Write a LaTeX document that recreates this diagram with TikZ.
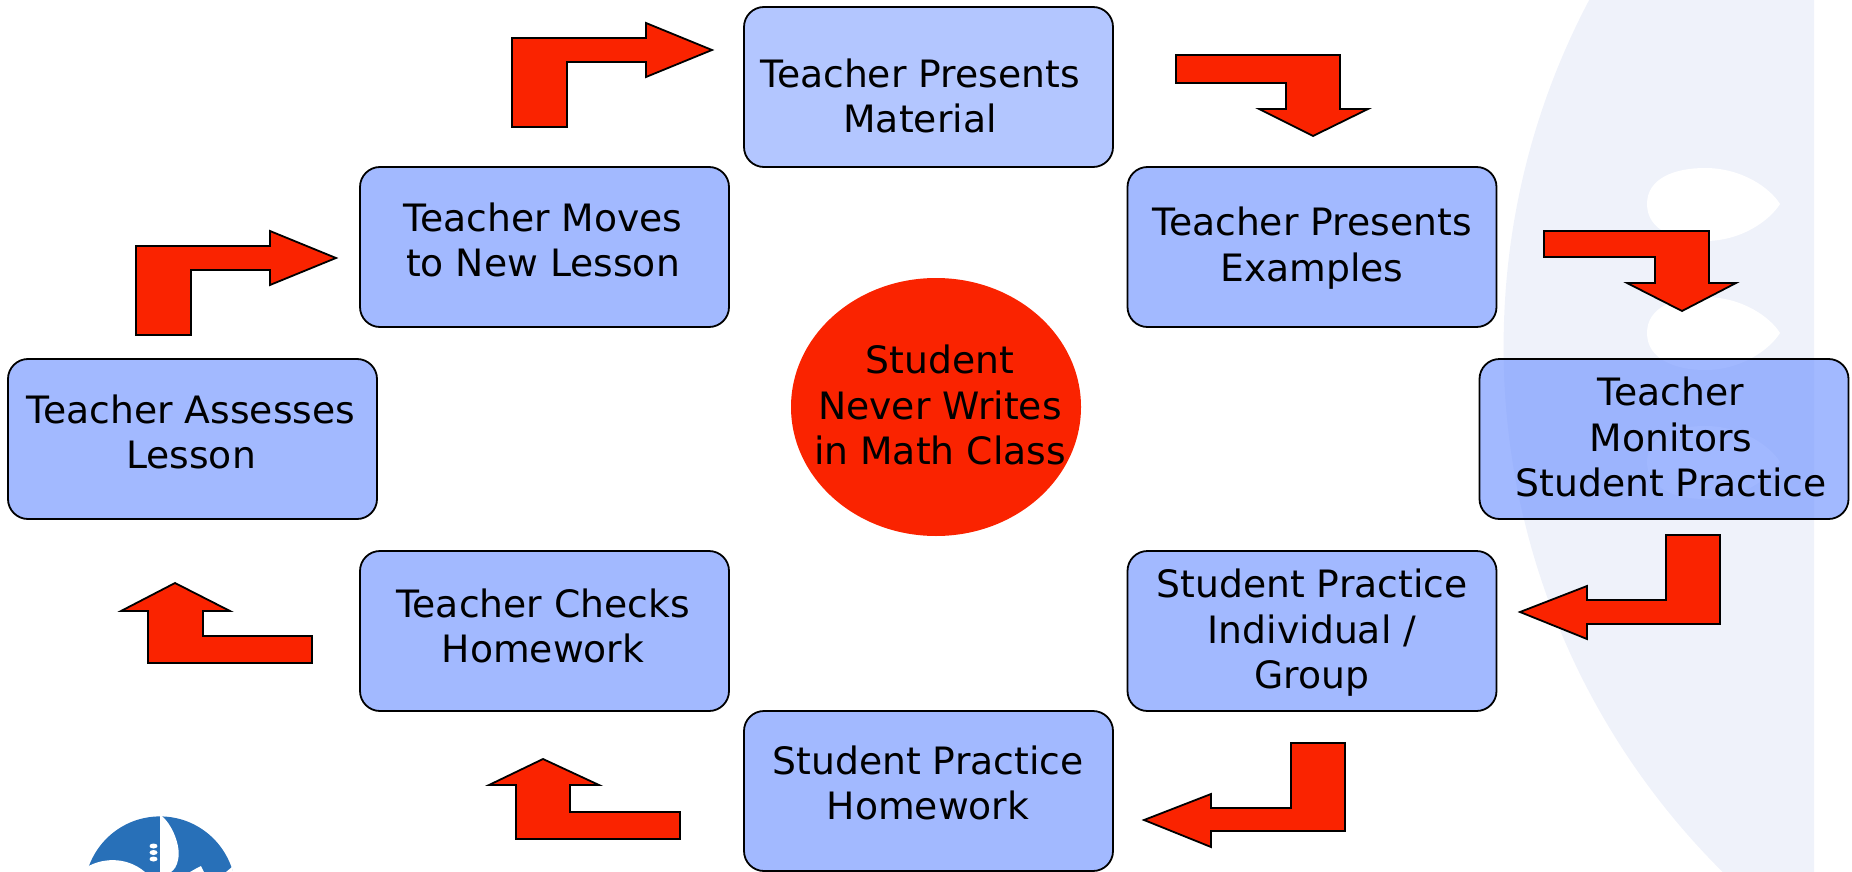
\documentclass[tikz,border=0pt]{standalone}
\usepackage{fontspec}
\setmainfont{DejaVu Sans}
\usepackage{xcolor}
\usetikzlibrary{shapes.geometric}
\definecolor{lessonblue}{RGB}{112, 147, 255}
\definecolor{firstblue}{RGB}{179, 198, 255}
\definecolor{arrowred}{RGB}{250, 35, 0}
\definecolor{pagetint}{RGB}{239, 242, 250}
\definecolor{logoblue}{RGB}{40, 112, 184}
\tikzset{
  lessonbox/.style={draw=black,line width=1.8pt,rounded corners=20pt,fill=lessonblue,fill opacity=0.65,minimum width=369pt,minimum height=160pt},
  lessontext/.style={align=center,font=\fontsize{37.7}{45.5}\selectfont,text=black},
  bentarrow/.style={draw=black,line width=1.8pt,fill=arrowred,line join=miter}
}
\begin{document}
\begin{tikzpicture}[x=1pt,y=-1pt]
  \useasboundingbox (0,0) rectangle (1852,872);
  \clip (0,0) rectangle (1852,872);

  % page decoration
  \begin{scope}
    \clip (0,0) rectangle (1814,872);
    \fill[pagetint] (2244.6,346) circle (741pt);
  \end{scope}
  \fill[white] (1647,204) .. controls (1647,178) and (1675,168) .. (1705,168) .. controls (1742,168) and (1770,188) .. (1780,204) .. controls (1770,220) and (1742,241) .. (1705,241) .. controls (1675,241) and (1647,230) .. (1647,204) -- cycle;
  \fill[white,shift={(0,129)}] (1647,204) .. controls (1647,178) and (1675,168) .. (1705,168) .. controls (1742,168) and (1770,188) .. (1780,204) .. controls (1770,220) and (1742,241) .. (1705,241) .. controls (1675,241) and (1647,230) .. (1647,204) -- cycle;
  \fill[white,shift={(0,258)}] (1647,204) .. controls (1647,178) and (1675,168) .. (1705,168) .. controls (1742,168) and (1770,188) .. (1780,204) .. controls (1770,220) and (1742,241) .. (1705,241) .. controls (1675,241) and (1647,230) .. (1647,204) -- cycle;

  % logo
  \fill[logoblue] (160,892) circle (75.6pt);
  \fill[white] (160,816) -- (162,816) .. controls (175,828) and (181,850) .. (178,860) .. controls (177,866) and (174,870) .. (171,872) -- (160,872) -- cycle;
  \fill[white] (87,867) .. controls (100,859) and (125,855) .. (145,872) -- (87,872) -- cycle;
  \fill[white] (153.5,846) ellipse (4pt and 2.5pt);
  \fill[white] (153.5,852.5) ellipse (4pt and 2.5pt);
  \fill[white] (153.5,859) ellipse (4pt and 2.5pt);
  \fill[white] (190,872) -- (197,868) -- (201,866) -- (204,872) -- cycle;
  \fill[white] (226,872) -- (232,867) -- (233,872) -- cycle;

  % lesson boxes
  \node[lessonbox,fill=firstblue,fill opacity=1] (material) at (928.5,87) {};
  \node[lessonbox] (examples) at (1312,247) {};
  \node[lessonbox] (monitors) at (1664,439) {};
  \node[lessonbox] (practice) at (1312,631) {};
  \node[lessonbox] (homework) at (928.5,791) {};
  \node[lessonbox] (checks) at (544.5,631) {};
  \node[lessonbox] (assesses) at (192.5,439) {};
  \node[lessonbox] (moves) at (544.5,247) {};

  \node[lessontext] (materialtext) at (920,96) {Teacher Presents\\Material};
  \node[lessontext] (examplestext) at (1312,248) {Teacher Presents\\Examples};
  \node[lessontext] (monitorstext) at (1671,437) {Teacher\\Monitors\\Student Practice};
  \node[lessontext] (practicetext) at (1312,633) {Student Practice\\Individual /\\Group};
  \node[lessontext] (homeworktext) at (928,783) {Student Practice\\Homework};
  \node[lessontext] (checkstext) at (543,626) {Teacher Checks\\Homework};
  \node[lessontext] (assessestext) at (191,432) {Teacher Assesses\\Lesson};
  \node[lessontext] (movestext) at (543,240) {Teacher Moves\\to New Lesson};

  % centre
  \node[ellipse,fill=arrowred,minimum width=290pt,minimum height=258pt] (centre) at (936,407) {};
  \node[lessontext] (centretext) at (940,405) {Student\\Never Writes\\in Math Class};

  % block arrows
  \draw[bentarrow] (512,127) -- (567,127) -- (567,62) -- (646,62) -- (646,77) -- (712,50) -- (646,23) -- (646,38) -- (512,38) -- cycle;
  \draw[bentarrow] (136,335) -- (191,335) -- (191,270) -- (270,270) -- (270,285) -- (336,258) -- (270,231) -- (270,246) -- (136,246) -- cycle;
  \draw[bentarrow] (1176,55) -- (1340,55) -- (1340,109) -- (1368,109) -- (1313,136) -- (1259,109) -- (1286,109) -- (1286,83) -- (1176,83) -- cycle;
  \draw[bentarrow] (1544,231) -- (1709,231) -- (1709,283) -- (1736,283) -- (1682,311) -- (1627,283) -- (1655,283) -- (1655,257) -- (1544,257) -- cycle;
  \draw[bentarrow] (1666,535) -- (1720,535) -- (1720,624) -- (1587,624) -- (1587,639) -- (1520,612) -- (1587,586) -- (1587,600) -- (1666,600) -- cycle;
  \draw[bentarrow] (1291,743) -- (1345,743) -- (1345,831) -- (1211,831) -- (1211,847) -- (1144,820) -- (1211,794) -- (1211,808) -- (1291,808) -- cycle;
  \draw[bentarrow] (680,812) -- (680,839) -- (516,839) -- (516,785) -- (489,785) -- (543,759) -- (599,785) -- (570,785) -- (570,812) -- cycle;
  \draw[bentarrow] (312,636) -- (312,663) -- (148,663) -- (148,611) -- (121,611) -- (175,583) -- (230,611) -- (203,611) -- (203,636) -- cycle;
\end{tikzpicture}
\end{document}
